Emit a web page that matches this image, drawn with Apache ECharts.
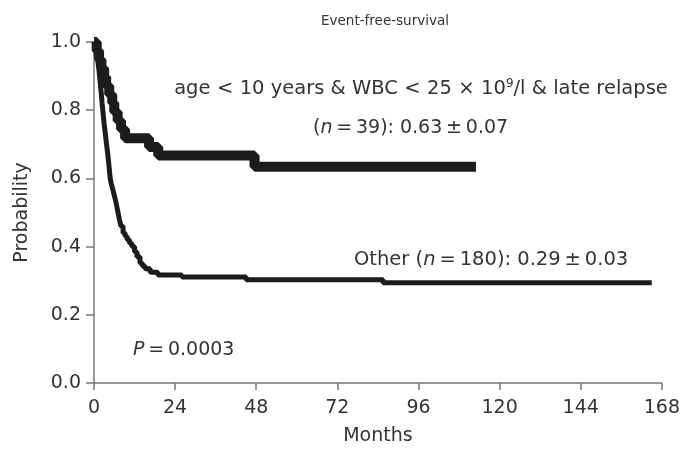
<!DOCTYPE html>
<html>
<head>
<meta charset="utf-8">
<script src="https://cdn.jsdelivr.net/npm/echarts@6/dist/echarts.min.js"></script>
<style>html,body{margin:0;padding:0;background:#fff;}#c{width:683px;height:456px;}</style>
</head>
<body>
<div id="c"></div>
<script>
// Months (x) and survival probability (y)
const favT = [0, 0.8, 1.5, 2.2, 3.0, 3.6, 4.5, 5.4, 6.0, 7.0, 8.0, 9.2, 16.3, 19.0, 47.5, 113];
const favS = [1.0, 0.974, 0.949, 0.923, 0.897, 0.872, 0.846, 0.821, 0.795, 0.769, 0.744, 0.718, 0.692, 0.667, 0.634, 0.634];

const othT = [0, 0.3, 0.6, 0.9, 1.2, 1.5, 1.8, 2.1, 2.4, 2.7, 3.0, 3.3, 3.6, 3.9, 4.2, 4.5, 4.8, 5.1, 5.5, 6.0, 6.5, 7.0, 7.5, 8.0, 8.6, 9.2, 9.8, 10.5, 11.2, 12.0, 12.7, 13.6, 14.3, 15.1, 16.6, 18.9, 26, 45, 85.5, 165];
const othS = [1.0, 0.985, 0.97, 0.955, 0.94, 0.915, 0.885, 0.855, 0.82, 0.79, 0.76, 0.735, 0.71, 0.685, 0.66, 0.63, 0.60, 0.585, 0.57, 0.55, 0.53, 0.505, 0.48, 0.46, 0.44, 0.43, 0.42, 0.41, 0.40, 0.385, 0.37, 0.352, 0.343, 0.335, 0.325, 0.317, 0.311, 0.303, 0.294, 0.294];

const xTicks = [0, 24, 48, 72, 96, 120, 144, 168];
const yTicks = [0.0, 0.2, 0.4, 0.6, 0.8, 1.0];

const font = 'DejaVu Sans, Verdana, sans-serif';
const txt = '#333';
const axisCol = '#777';
const ts = '\u2009'; // thin space around operators
const ms = '\u2004'; // three-per-em space

const chart = echarts.init(document.getElementById('c'), null, {renderer: 'canvas'});
chart.setOption({
  animation: false,
  backgroundColor: '#fff',
  textStyle: {fontFamily: font},
  title: {
    text: 'Event-free-survival',
    left: 380, top: 9, textAlign: 'center',
    textStyle: {fontFamily: font, fontSize: 13.5, fontWeight: 'normal', color: txt}
  },
  grid: {left: 94, right: 21, top: 42, bottom: 73, containLabel: false},
  xAxis: {
    type: 'value', min: xTicks[0], max: xTicks[xTicks.length - 1], interval: 24,
    name: 'Months', nameLocation: 'middle', nameGap: 44,
    nameTextStyle: {fontFamily: font, fontSize: 19, color: txt},
    axisLine: {onZero: false, lineStyle: {color: axisCol, width: 1.5}},
    axisTick: {show: true, length: 7, lineStyle: {color: axisCol, width: 1.5}},
    axisLabel: {fontFamily: font, fontSize: 19, color: txt, margin: 16},
    splitLine: {show: false}
  },
  yAxis: {
    type: 'value', min: yTicks[0], max: yTicks[yTicks.length - 1], interval: 0.2,
    name: 'Probability', nameLocation: 'middle', nameGap: 62, nameRotate: 90,
    nameTextStyle: {fontFamily: font, fontSize: 19, color: txt},
    axisLine: {show: true, onZero: false, lineStyle: {color: axisCol, width: 1.5}},
    axisTick: {show: true, length: 8, lineStyle: {color: axisCol, width: 1.5}},
    axisLabel: {fontFamily: font, fontSize: 19, color: txt, margin: 13, formatter: v => v.toFixed(1)},
    splitLine: {show: false}
  },
  series: [
    {
      type: 'line', step: 'end', symbol: 'none', silent: true,
      data: othT.map((t, i) => [t, othS[i]]),
      lineStyle: {color: '#1c1c1c', width: 5}
    },
    {
      type: 'line', step: 'end', symbol: 'none', silent: true,
      data: favT.map((t, i) => [t, favS[i]]),
      lineStyle: {color: '#1c1c1c', width: 10}
    }
  ],
  graphic: [
    {
      type: 'text', x: 421, y: 89,
      style: {
        text: '{a|age' + ms + '<' + ms + '10 years & WBC' + ms + '<' + ms + '25' + ms + '×' + ms + '10}{s|9}{a|/l & late relapse}',
        align: 'center', verticalAlign: 'middle',
        rich: {
          a: {fontFamily: font, fontSize: 19.5, fill: txt},
          s: {fontFamily: font, fontSize: 12, fill: txt, padding: [0, 0, 10, 0]}
        }
      }
    },
    {
      type: 'text', x: 313, y: 128,
      style: {
        text: '{a|(}{i|n}{a|' + ts + '=' + ts + '39): 0.63' + ts + '±' + ts + '0.07}',
        align: 'left', verticalAlign: 'middle',
        rich: {
          a: {fontFamily: font, fontSize: 19, fill: txt},
          i: {fontFamily: font, fontSize: 19, fill: txt, fontStyle: 'italic'}
        }
      }
    },
    {
      type: 'text', x: 354, y: 260,
      style: {
        text: '{a|Other (}{i|n}{a|' + ts + '=' + ts + '180): 0.29' + ts + '±' + ts + '0.03}',
        align: 'left', verticalAlign: 'middle',
        rich: {
          a: {fontFamily: font, fontSize: 19.5, fill: txt},
          i: {fontFamily: font, fontSize: 19.5, fill: txt, fontStyle: 'italic'}
        }
      }
    },
    {
      type: 'text', x: 133, y: 350,
      style: {
        text: '{i|P}{a|' + ts + '=' + ts + '0.0003}',
        align: 'left', verticalAlign: 'middle',
        rich: {
          a: {fontFamily: font, fontSize: 19, fill: txt},
          i: {fontFamily: font, fontSize: 19, fill: txt, fontStyle: 'italic'}
        }
      }
    }
  ]
});
</script>
</body>
</html>
